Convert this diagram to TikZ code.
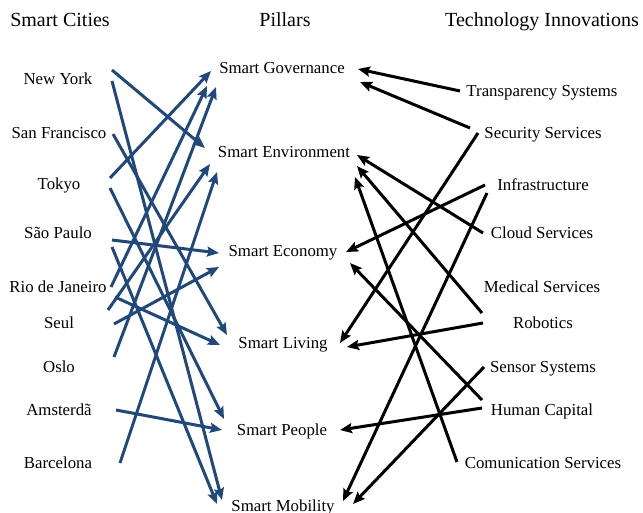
\documentclass[tikz,border=0pt]{standalone}
\usepackage{fontspec}
\setmainfont{Liberation Serif}
\usetikzlibrary{arrows.meta,calc}
\definecolor{linkblue}{RGB}{31,73,125}
\begin{document}
\begin{tikzpicture}[x=1pt,y=-1pt,
  lbl/.style={inner sep=0pt,text height=15pt,text depth=4pt,font=\fontsize{16.8}{19}\selectfont},
  hdr/.style={inner sep=0pt,text height=17pt,text depth=3.8pt,font=\fontsize{20}{23}\selectfont},
  bluelink/.style={draw=linkblue,line width=3pt,-{Stealth[length=12pt,width=10pt,inset=2pt]}},
  blacklink/.style={draw=black,line width=3pt,-{Stealth[length=12pt,width=10pt,inset=2pt]}}]
\useasboundingbox (0,0) rectangle (643,513);
\fill[white] (0,0) rectangle (643,513);
% headers
\node[hdr] (h1) at (60,20) {Smart Cities};
\node[hdr] (h2) at (285,20) {Pillars};
\node[hdr] (h3) at (542,20) {Technology Innovations};
% cities
\node[lbl] (ny) at (58,79) {New York};
\node[lbl] (sf) at (59,133) {San Francisco};
\node[lbl] (tk) at (59,184) {Tokyo};
\node[lbl] (sp) at (58,233) {São Paulo};
\node[lbl] (rio) at (58,287) {Rio de Janeiro};
\node[lbl] (seul) at (59,323) {Seul};
\node[lbl] (oslo) at (59,367) {Oslo};
\node[lbl] (ams) at (59,410) {Amsterdã};
\node[lbl] (bar) at (58,463) {Barcelona};
% pillars
\node[lbl] (gov) at (282,68) {Smart Governance};
\node[lbl] (env) at (284,152) {Smart Environment};
\node[lbl] (eco) at (283,251) {Smart Economy};
\node[lbl] (liv) at (283,343) {Smart Living};
\node[lbl] (peo) at (282,430) {Smart People};
\node[lbl] (mob) at (283,506) {Smart Mobility};
% technologies
\node[lbl] (tra) at (542,91) {Transparency Systems};
\node[lbl] (sec) at (543,133) {Security Services};
\node[lbl] (inf) at (543,185) {Infrastructure};
\node[lbl] (clo) at (542,233) {Cloud Services};
\node[lbl] (med) at (542,287) {Medical Services};
\node[lbl] (rob) at (543,323) {Robotics};
\node[lbl] (sen) at (543,367) {Sensor Systems};
\node[lbl] (hum) at (542,410) {Human Capital};
\node[lbl] (com) at (543,463) {Comunication Services};
% blue connectors
\draw[bluelink] ($(ny)+(54,-9)$) -- ($(env)+(-79,-4)$);
\draw[bluelink] ($(ny)+(54,2)$) -- ($(mob)+(-61,-6)$);
\draw[bluelink] ($(sf)+(54,1)$) -- ($(liv)+(-56,-8)$);
\draw[bluelink] ($(tk)+(51,-6)$) -- ($(gov)+(-71,3)$);
\draw[bluelink] ($(tk)+(51,4)$) -- ($(peo)+(-58,-11)$);
\draw[bluelink] ($(sp)+(54,7)$) -- ($(eco)+(-64,2)$);
\draw[bluelink] ($(sp)+(54,14)$) -- ($(mob)+(-66,-2)$);
\draw[bluelink] ($(rio)+(53,0)$) -- ($(gov)+(-75,18)$);
\draw[bluelink] ($(rio)+(57,10)$) -- ($(liv)+(-63,2)$);
\draw[bluelink] ($(rio)+(50,23)$) -- ($(env)+(-74,12)$);
\draw[bluelink] ($(seul)+(55,1)$) -- ($(eco)+(-64,16)$);
\draw[bluelink] ($(oslo)+(55,-10)$) -- ($(gov)+(-66,19)$);
\draw[bluelink] ($(ams)+(57,0)$) -- ($(peo)+(-60,0)$);
\draw[bluelink] ($(bar)+(62,0)$) -- ($(env)+(-67,20)$);
% black connectors
\draw[blacklink] ($(tra)+(-82,0)$) -- ($(gov)+(76,1)$);
\draw[blacklink] ($(sec)+(-73,-5)$) -- ($(gov)+(78,14)$);
\draw[blacklink] ($(sec)+(-65,0)$) -- ($(liv)+(57,0)$);
\draw[blacklink] ($(inf)+(-58,0)$) -- ($(eco)+(63,1)$);
\draw[blacklink] ($(inf)+(-56,8)$) -- ($(mob)+(60,-5)$);
\draw[blacklink] ($(clo)+(-59,0)$) -- ($(env)+(73,3)$);
\draw[blacklink] ($(med)+(-60,26)$) -- ($(env)+(73,14)$);
\draw[blacklink] ($(com)+(-86,-1)$) -- ($(env)+(71,25)$);
\draw[blacklink] ($(rob)+(-60,0)$) -- ($(liv)+(64,4)$);
\draw[blacklink] ($(hum)+(-60,-10)$) -- ($(eco)+(67,12)$);
\draw[blacklink] ($(hum)+(-60,-2)$) -- ($(peo)+(58,0)$);
\draw[blacklink] ($(sen)+(-59,0)$) -- ($(mob)+(70,-2)$);
\end{tikzpicture}
\end{document}
